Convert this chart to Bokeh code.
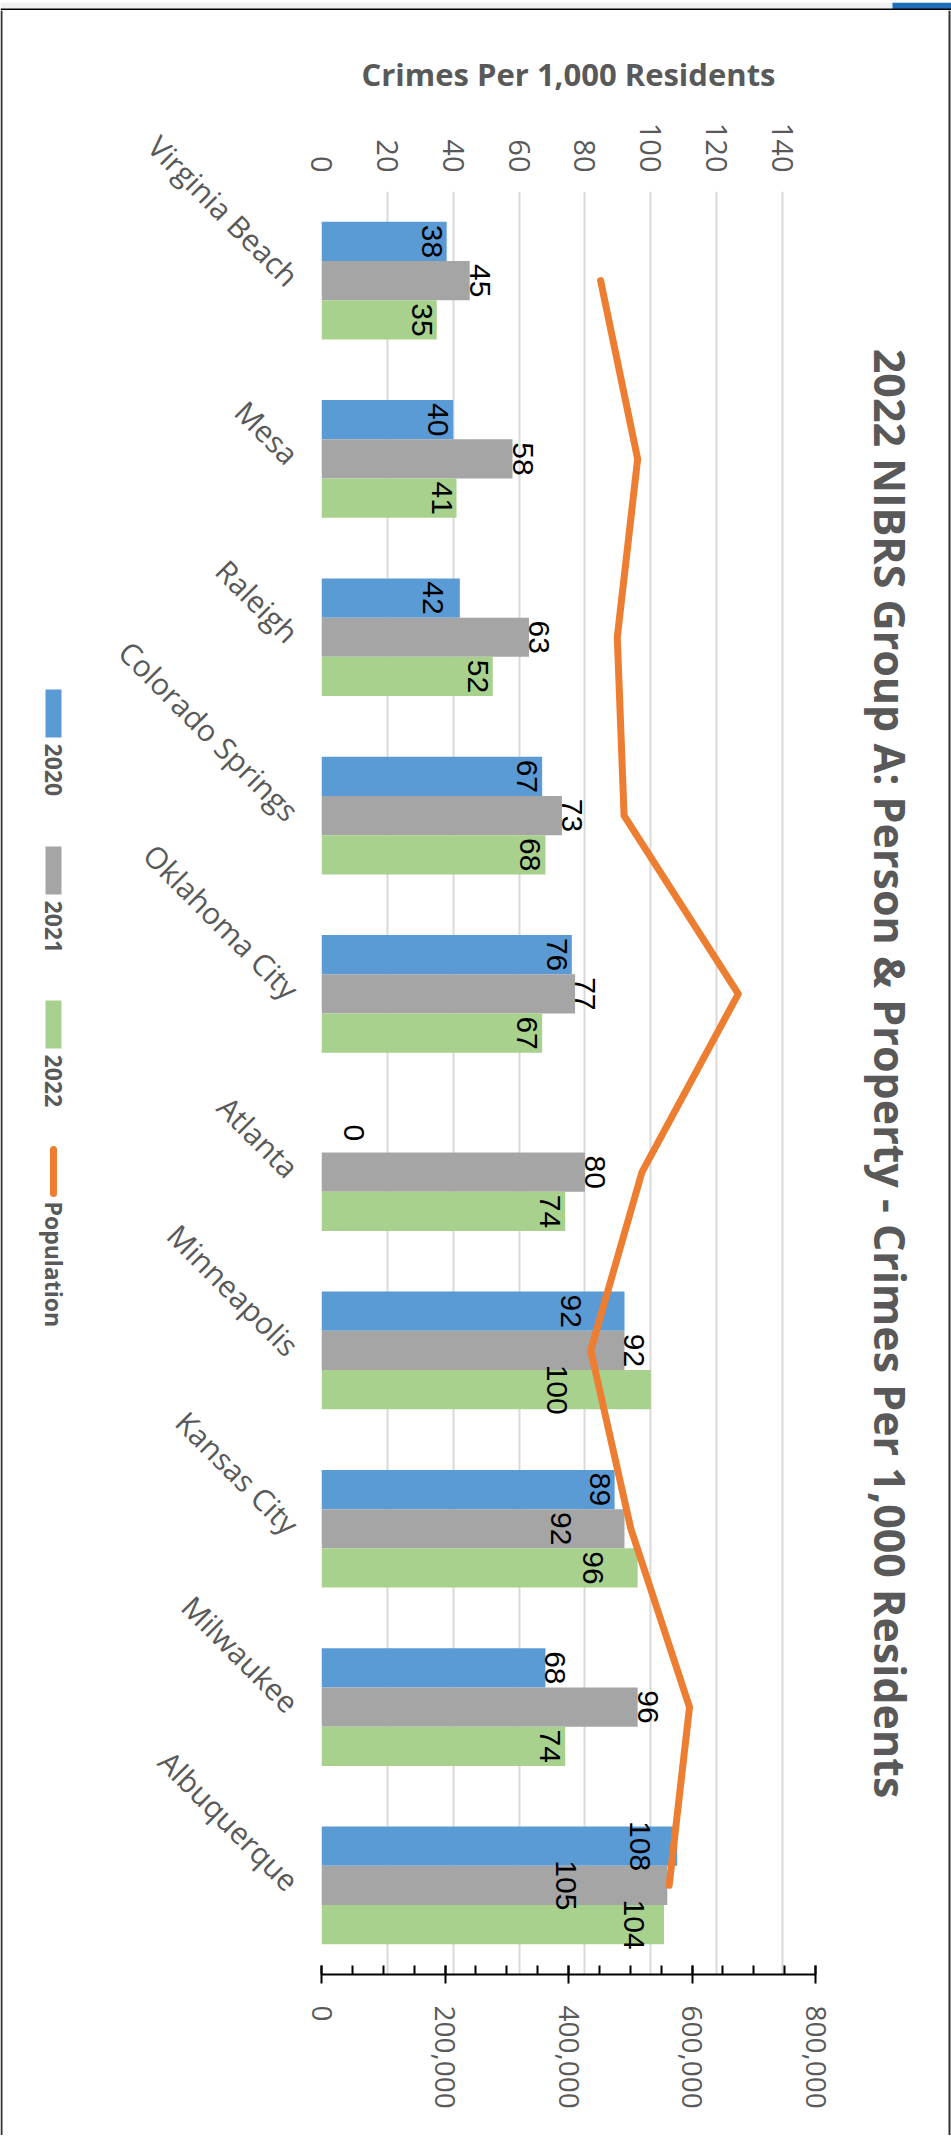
import math

from bokeh.core.properties import value
from bokeh.embed import file_html
from bokeh.layouts import column, row
from bokeh.models import (CategoricalAxis, ColumnDataSource, FactorRange, FixedTicker, Grid,
                          LinearAxis, NumeralTickFormatter, Range1d)
from bokeh.plotting import figure
from bokeh.resources import INLINE
from bokeh.transform import dodge

# ---------------------------------------------------------------- data
cities = ["Virginia Beach", "Mesa", "Raleigh", "Colorado Springs", "Oklahoma City",
          "Atlanta", "Minneapolis", "Kansas City", "Milwaukee", "Albuquerque"]
years = ["2020", "2021", "2022"]
rate_2020 = [38, 40, 42, 67, 76, 0, 92, 89, 68, 108]
rate_2021 = [45, 58, 63, 73, 77, 80, 92, 92, 96, 105]
rate_2022 = [35, 41, 52, 68, 67, 74, 100, 96, 74, 104]
population = [452000, 512000, 479000, 490000, 675000, 519000, 436000, 501000, 596000, 563000]
crime_ticks = [0, 20, 40, 60, 80, 100, 120, 140]
pop_ticks = [0, 200000, 400000, 600000, 800000]

TITLE = "2022 NIBRS Group A: Person & Property - Crimes Per 1,000 Residents"
X_TITLE = "Crimes Per 1,000 Residents"
POP_NAME = "Population"

# ---------------------------------------------------------------- styling
COLORS = {"2020": "#5b9bd5", "2021": "#a5a5a5", "2022": "#a9d18e"}
LINE_COLOR = "#ed7d31"
TEXT_GREY = "#595959"
FRAME_DARK = "#333333"
FONT = "Open Sans"
LABEL_FONT = "Liberation Sans"

# label placement: inside the bar end by default, outside for 2021
PLACE_DEFAULT = {"2020": "in", "2021": "out", "2022": "in"}
PLACE_SPECIAL = {("Atlanta", "2020"): "out", ("Milwaukee", "2020"): "out",
                 ("Kansas City", "2021"): "in", ("Albuquerque", "2021"): "in"}
INSIDE_INSET_PX = -5
# hand-moved labels (pixels along the value axis)
LABEL_NUDGE_PX = {("Atlanta", "2020"): 22, ("Raleigh", "2020"): -12,
                  ("Minneapolis", "2020"): -38, ("Minneapolis", "2022"): -79,
                  ("Kansas City", "2021"): -48, ("Kansas City", "2022"): -30,
                  ("Albuquerque", "2020"): -22, ("Albuquerque", "2021"): -86,
                  ("Albuquerque", "2022"): -15}

# ---------------------------------------------------------------- page geometry
W, H = 951, 2138
TOP_STRIP = 10          # header strip above the chart
BOTTOM_STRIP = 3        # page edge below the chart
MID_H = H - TOP_STRIP - BOTTOM_STRIP
LEGEND_W = 70           # legend column on the left
TITLE_X0 = 835          # title column starts here
FL, FT, FR, FB = 321, 191, 815, 1974   # plot frame on the page
X_MAX = 150
POP_MAX = 800000
PX_PER_UNIT = (FR - FL) / X_MAX
BAR_H = 0.22


def blank(width, height):
    """a figure whose plotting area is the whole canvas, in pixel units"""
    f = figure(width=width, height=height, x_range=Range1d(0, width),
               y_range=Range1d(0, height), x_axis_type=None, y_axis_type=None,
               toolbar_location=None, output_backend="svg", min_border=0,
               outline_line_color=None, background_fill_color="white",
               border_fill_color="white", frame_align=False)
    return f


def strip_box(f, h, l, r, t, b, color):
    """filled box given in the figure's own pixels, top-down"""
    f.quad(left=[l], right=[r], top=[h - t], bottom=[h - b], fill_color=color,
           line_color=None)


# ---------------------------------------------------------------- main chart
p = figure(frame_width=FR - FL, frame_height=FB - FT,
           x_range=Range1d(0, X_MAX), y_range=FactorRange(factors=cities[::-1]),
           x_axis_type=None, y_axis_type=None,
           toolbar_location=None, output_backend="svg",
           min_border_left=FL - LEGEND_W, min_border_right=TITLE_X0 - FR,
           min_border_top=FT - TOP_STRIP, min_border_bottom=MID_H - (FB - TOP_STRIP),
           background_fill_color="white", border_fill_color="white",
           outline_line_color=None, frame_align=False)
p.extra_x_ranges = {"pop": Range1d(0, POP_MAX)}

# top value axis
top = LinearAxis(ticker=FixedTicker(ticks=crime_ticks), axis_label=X_TITLE)
top.axis_line_color = None
top.major_tick_line_color = None
top.minor_tick_line_color = None
top.major_tick_in = 0
top.major_tick_out = 0
top.minor_tick_in = 0
top.minor_tick_out = 0
top.major_label_orientation = -math.pi / 2
top.major_label_standoff = 19
top.major_label_text_font = FONT
top.major_label_text_font_size = "29px"
top.major_label_text_color = TEXT_GREY
top.axis_label_text_font = FONT
top.axis_label_text_font_size = "31px"
top.axis_label_text_font_style = "bold"
top.axis_label_text_color = TEXT_GREY
top.axis_label_standoff = 25
p.add_layout(top, "above")

# bottom population axis
bottom = LinearAxis(x_range_name="pop",
                    ticker=FixedTicker(ticks=pop_ticks,
                                       minor_ticks=list(range(0, POP_MAX + 1, 50000))),
                    formatter=NumeralTickFormatter(format="0,0"))
bottom.axis_line_color = "black"
bottom.axis_line_width = 2
bottom.major_tick_line_color = "black"
bottom.major_tick_line_width = 2
bottom.minor_tick_line_color = "black"
bottom.minor_tick_line_width = 2
bottom.major_tick_in = 9
bottom.major_tick_out = 9
bottom.minor_tick_in = 9
bottom.minor_tick_out = 0
bottom.major_label_orientation = -math.pi / 2
bottom.major_label_standoff = 22
bottom.major_label_text_font = FONT
bottom.major_label_text_font_size = "28px"
bottom.major_label_text_color = TEXT_GREY
p.add_layout(bottom, "below")

# category axis
left = CategoricalAxis()
left.axis_line_color = None
left.major_tick_line_color = None
left.minor_tick_line_color = None
left.major_tick_in = 0
left.major_tick_out = 0
left.major_label_orientation = -math.pi / 4
left.major_label_standoff = 28
left.major_label_text_font = FONT
left.major_label_text_font_size = "30px"
left.major_label_text_color = TEXT_GREY
p.add_layout(left, "left")

p.add_layout(Grid(dimension=0, ticker=FixedTicker(ticks=crime_ticks),
                  grid_line_color="#d9d9d9", grid_line_width=2))

# bars
series = {"2020": rate_2020, "2021": rate_2021, "2022": rate_2022}
offsets = {"2020": BAR_H, "2021": 0.0, "2022": -BAR_H}
src = ColumnDataSource(dict(city=cities, r2020=rate_2020, r2021=rate_2021,
                            r2022=rate_2022, pop=population))

for yr in years:
    p.hbar(y=dodge("city", offsets[yr], range=p.y_range), left=0, right="r" + yr,
           height=BAR_H, fill_color=COLORS[yr], line_color=None, source=src)

# population line on the secondary axis
p.line(x="pop", y="city", source=src, x_range_name="pop", line_color=LINE_COLOR,
       line_width=7, line_join="round", line_cap="round")

# value labels
for yr in years:
    groups = {"in": dict(city=[], x=[], text=[]), "out": dict(city=[], x=[], text=[])}
    for c, v in zip(cities, series[yr]):
        place = PLACE_SPECIAL.get((c, yr), PLACE_DEFAULT[yr])
        shift = LABEL_NUDGE_PX.get((c, yr), 0) + (INSIDE_INSET_PX if place == "in" else 0)
        g = groups[place]
        g["city"].append(c)
        g["x"].append(v + shift / PX_PER_UNIT)
        g["text"].append(str(v))
    for place, g in groups.items():
        if not g["city"]:
            continue
        p.text(x="x", y=dodge("city", offsets[yr], range=p.y_range), text="text",
               source=ColumnDataSource(g), angle=-math.pi / 2,
               text_align="center", text_baseline="top" if place == "in" else "bottom",
               text_font=value(LABEL_FONT), text_font_size="30px", text_color="black")

# ---------------------------------------------------------------- legend column
lg = blank(LEGEND_W, MID_H)
strip_box(lg, MID_H, 0, 2, 0, MID_H, FRAME_DARK)          # page edge


def ly(y_page):
    """page y (top down) -> legend/title figure y (bottom up)"""
    return MID_H - (y_page - TOP_STRIP)


legend_items = [("2020", COLORS["2020"], 689), ("2021", COLORS["2021"], 846),
                ("2022", COLORS["2022"], 1000)]
for name, col, y0 in legend_items:
    lg.quad(left=[45], right=[61], top=[ly(y0)], bottom=[ly(y0 + 48)],
            fill_color=col, line_color=None)
    lg.text(x=[53], y=[ly(y0 + 54)], text=[name], angle=-math.pi / 2,
            text_align="left", text_baseline="middle", text_font=value(FONT),
            text_font_size="23px", text_font_style="bold", text_color=TEXT_GREY)
lg.line(x=[53, 53], y=[ly(1149), ly(1193)], line_color=LINE_COLOR, line_width=7,
        line_cap="round")
lg.text(x=[53], y=[ly(1201)], text=[POP_NAME], angle=-math.pi / 2,
        text_align="left", text_baseline="middle", text_font=value(FONT),
        text_font_size="23px", text_font_style="bold", text_color=TEXT_GREY)

# ---------------------------------------------------------------- title column
title_w = W - TITLE_X0
tf = blank(title_w, MID_H)
strip_box(tf, MID_H, 948 - TITLE_X0, 950 - TITLE_X0, 0, MID_H, FRAME_DARK)
tf.text(x=[890 - TITLE_X0], y=[ly(1073)], text=[TITLE],
        angle=-math.pi / 2, text_align="center", text_baseline="middle",
        text_font=value(FONT), text_font_size="43px", text_font_style="bold",
        text_color=TEXT_GREY)

# ---------------------------------------------------------------- page edges
hdr = blank(W, TOP_STRIP)
strip_box(hdr, TOP_STRIP, 0, W, 0, 6, "#f0f0f0")
strip_box(hdr, TOP_STRIP, 892, W, 0, 7, "#1c6fb8")
strip_box(hdr, TOP_STRIP, 0, W, 6, 10, "#000000")

ftr = blank(W, BOTTOM_STRIP)
strip_box(ftr, BOTTOM_STRIP, 0, 950, 0, 2, FRAME_DARK)

page = column(hdr, row(lg, p, tf, spacing=0), ftr, spacing=0)

open("out.html", "w").write(file_html(page, INLINE))
